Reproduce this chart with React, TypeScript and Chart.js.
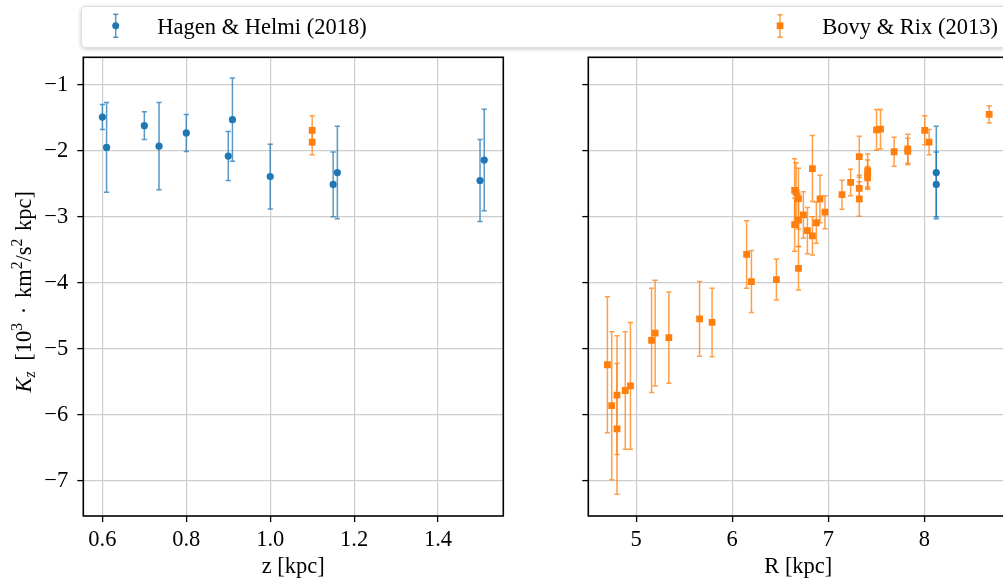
import React, { useEffect, useRef } from 'react';
import { Chart, registerables } from 'chart.js';

Chart.register(...registerables);

const FAMILY = '"Liberation Serif", "Times New Roman", serif';
const FS = 22.5;
const BLUE = '#1f77b4';
const ORANGE = '#ff7f0e';
const BLUE_ERR = 'rgba(31,119,180,0.75)';
const ORANGE_ERR = 'rgba(255,127,14,0.75)';

// ---------- left panel (vs z) ----------
const hhZ = [0.60, 0.61, 0.70, 0.735, 0.80, 0.90, 0.91, 1.00, 1.15, 1.16, 1.50, 1.51];
const hhZK = [-1.49, -1.95, -1.62, -1.93, -1.73, -2.08, -1.53, -2.39, -2.51, -2.33, -2.45, -2.14];
const hhZErr = [0.19, 0.68, 0.21, 0.66, 0.28, 0.37, 0.63, 0.49, 0.49, 0.70, 0.62, 0.77];

const brZ = [1.10, 1.10];
const brZK = [-1.69, -1.87];
const brZErr = [0.22, 0.19];

// ---------- right panel (vs R) ----------
const hhR = [8.125, 8.125];
const hhRK = [-2.51, -2.33];
const hhRErr = [0.49, 0.70];

const brR = [
  4.70, 4.745, 4.80, 4.80, 4.886, 4.94, 5.16, 5.197, 5.34, 5.66, 5.79,
  6.15, 6.20, 6.46, 6.65, 6.665, 6.65, 6.69, 6.69, 6.69, 6.741, 6.783,
  6.835, 6.835, 6.876, 6.914, 6.966, 7.143, 7.233, 7.323, 7.323, 7.323,
  7.41, 7.41, 7.41, 7.503, 7.544, 7.686, 7.828, 7.828, 8.005, 8.05, 8.676,
];
const brRK = [
  -5.24, -5.86, -5.70, -6.21, -5.63, -5.56, -4.87, -4.76, -4.83, -4.545, -4.60,
  -3.57, -3.98, -3.95, -2.60, -2.63, -3.12, -2.725, -3.05, -3.78, -2.97, -3.21,
  -2.27, -3.29, -3.09, -2.73, -2.93, -2.665, -2.48, -2.09, -2.57, -2.73,
  -2.30, -2.36, -2.41, -1.684, -1.674, -2.015, -1.97, -2.01, -1.69, -1.87, -1.448,
];
const brRErr = [
  1.03, 1.12, 0.90, 0.99, 0.89, 0.96, 0.79, 0.80, 0.69, 0.565, 0.52,
  0.51, 0.47, 0.31, 0.48, 0.45, 0.40, 0.46, 0.40, 0.33, 0.35, 0.35,
  0.50, 0.29, 0.31, 0.36, 0.25, 0.22, 0.20, 0.31, 0.20, 0.26,
  0.25, 0.22, 0.17, 0.31, 0.30, 0.22, 0.22, 0.20, 0.22, 0.19, 0.13,
];

// ---------- ticks / ranges ----------
const zTicks = [0.6, 0.8, 1.0, 1.2, 1.4];
const rTicks = [5, 6, 7, 8];
const kTicks = [-7, -6, -5, -4, -3, -2, -1];
const zRange = [0.5545, 1.5555];
const rRange = [4.501, 8.875];
const kRange = [-7.53, -0.585];

const LEGEND_HH = 'Hagen & Helmi (2018)';
const LEGEND_BR = 'Bovy & Rix (2013)';
const X_TITLE_LEFT = 'z [kpc]';
const X_TITLE_RIGHT = 'R [kpc]';

const font = { family: FAMILY, size: FS };

const errorBarPlugin = {
  id: 'errorBars',
  beforeDatasetDraw(chart: any, args: any) {
    const ds = chart.data.datasets[args.index];
    if (!ds.errors) return;
    const xs = chart.scales.x;
    const ys = chart.scales.y;
    const ctx = chart.ctx;
    ctx.save();
    ctx.strokeStyle = ds.errorColor;
    ctx.lineWidth = 1.5;
    ds.data.forEach((p: any, i: number) => {
      const px = xs.getPixelForValue(p.x);
      const top = ys.getPixelForValue(p.y + ds.errors[i]);
      const bot = ys.getPixelForValue(p.y - ds.errors[i]);
      ctx.beginPath();
      ctx.moveTo(px, top);
      ctx.lineTo(px, bot);
      ctx.moveTo(px - 2.6, top);
      ctx.lineTo(px + 2.6, top);
      ctx.moveTo(px - 2.6, bot);
      ctx.lineTo(px + 2.6, bot);
      ctx.stroke();
    });
    ctx.restore();
  },
};

const framePlugin = {
  id: 'frame',
  afterDatasetsDraw(chart: any) {
    const { ctx, chartArea: a } = chart;
    ctx.save();
    ctx.strokeStyle = '#000';
    ctx.lineWidth = 1.6;
    ctx.strokeRect(a.left, a.top, a.right - a.left, a.bottom - a.top);
    ctx.restore();
  },
};

const yTitlePlugin = {
  id: 'yTitle',
  afterDraw(chart: any) {
    const ctx = chart.ctx;
    const a = chart.chartArea;
    const reg = `${FS}px ${FAMILY}`;
    const ita = `italic ${FS}px ${FAMILY}`;
    const small = `${FS * 0.7}px ${FAMILY}`;
    const smallIta = `italic ${FS * 0.7}px ${FAMILY}`;
    const segs = [
      { t: 'K', f: ita, dy: 0, gap: 0 },
      { t: 'z', f: smallIta, dy: 4, gap: 0 },
      { t: ' [10', f: reg, dy: 0, gap: 5 },
      { t: '3', f: small, dy: -9, gap: 0 },
      { t: ' · ', f: reg, dy: 0, gap: 3 },
      { t: 'km', f: reg, dy: 0, gap: 3 },
      { t: '2', f: small, dy: -9, gap: 0 },
      { t: '/s', f: reg, dy: 0, gap: 0 },
      { t: '2', f: small, dy: -9, gap: 0 },
      { t: ' kpc]', f: reg, dy: 0, gap: 2 },
    ];
    ctx.save();
    let total = 0;
    const widths = segs.map((s) => {
      ctx.font = s.f;
      const w = ctx.measureText(s.t).width;
      total += w + s.gap;
      return w;
    });
    const cy = (a.top + a.bottom) / 2 + 5;
    ctx.translate(31, cy);
    ctx.rotate(-Math.PI / 2);
    ctx.fillStyle = '#000';
    ctx.textBaseline = 'alphabetic';
    ctx.textAlign = 'left';
    let x = -total / 2;
    segs.forEach((s, i) => {
      x += s.gap;
      ctx.font = s.f;
      ctx.fillText(s.t, x, s.dy);
      x += widths[i];
    });
    ctx.restore();
  },
};

function minusFmt(v: number) {
  return (v < 0 ? '\u2212' : '') + String(Math.abs(Math.round(v)));
}

function buildConfig(opts: {
  datasets: any[];
  xRange: number[];
  xTicks: number[];
  xFmt: (v: number) => string;
  xTitle: string;
  yWidth: number;
  padRight: number;
  showYLabels: boolean;
  extraPlugins: any[];
}) {
  const grid = {
    color: '#cdcdcd',
    lineWidth: 1.2,
    drawTicks: true,
    tickLength: 6,
    tickColor: '#000',
    tickWidth: 1.3,
  };
  return {
    type: 'scatter',
    data: { datasets: opts.datasets },
    options: {
      animation: false,
      responsive: false,
      devicePixelRatio: 1,
      events: [],
      layout: { padding: { left: 0, top: 57.3, right: opts.padRight, bottom: 0 } },
      plugins: { legend: { display: false }, tooltip: { enabled: false } },
      scales: {
        x: {
          type: 'linear',
          min: opts.xRange[0],
          max: opts.xRange[1],
          afterBuildTicks: (s: any) => {
            s.ticks = opts.xTicks.map((v) => ({ value: v }));
          },
          afterFit: (s: any) => {
            s.height = 67;
          },
          grid,
          border: { display: false },
          ticks: {
            font,
            color: '#000',
            padding: 4.5,
            maxRotation: 0,
            autoSkip: false,
            callback: (v: any) => opts.xFmt(Number(v)),
          },
          title: {
            display: true,
            text: opts.xTitle,
            font,
            color: '#000',
            padding: { top: 0, bottom: 2.5 },
          },
        },
        y: {
          type: 'linear',
          min: kRange[0],
          max: kRange[1],
          afterBuildTicks: (s: any) => {
            s.ticks = kTicks.map((v) => ({ value: v }));
          },
          afterFit: (s: any) => {
            s.width = opts.yWidth;
          },
          grid,
          border: { display: false },
          ticks: {
            display: opts.showYLabels,
            font,
            color: '#000',
            padding: 9,
            autoSkip: false,
            callback: (v: any) => minusFmt(Number(v)),
          },
        },
      },
    },
    plugins: [errorBarPlugin, framePlugin, ...opts.extraPlugins],
  };
}

function makeDs(label: string, xs: number[], ys: number[], errs: number[], kind: 'hh' | 'br') {
  return {
    label,
    data: xs.map((x, i) => ({ x, y: ys[i] })),
    errors: errs,
    errorColor: kind === 'hh' ? BLUE_ERR : ORANGE_ERR,
    pointStyle: kind === 'hh' ? 'circle' : 'rect',
    pointRadius: kind === 'hh' ? 3.6 : 4.8,
    pointBackgroundColor: kind === 'hh' ? BLUE : ORANGE,
    pointBorderWidth: 0,
    showLine: false,
  };
}

export default function App() {
  const leftRef = useRef<HTMLCanvasElement>(null);
  const rightRef = useRef<HTMLCanvasElement>(null);

  useEffect(() => {
    const left = new Chart(
      leftRef.current as HTMLCanvasElement,
      buildConfig({
        datasets: [
          makeDs(LEGEND_BR, brZ, brZK, brZErr, 'br'),
          makeDs(LEGEND_HH, hhZ, hhZK, hhZErr, 'hh'),
        ],
        xRange: zRange,
        xTicks: zTicks,
        xFmt: (v) => v.toFixed(1),
        xTitle: X_TITLE_LEFT,
        yWidth: 83.3,
        padRight: 36.7,
        showYLabels: true,
        extraPlugins: [yTitlePlugin],
      }) as any
    );
    const right = new Chart(
      rightRef.current as HTMLCanvasElement,
      buildConfig({
        datasets: [
          makeDs(LEGEND_BR, brR, brRK, brRErr, 'br'),
          makeDs(LEGEND_HH, hhR, hhRK, hhRErr, 'hh'),
        ],
        xRange: rRange,
        xTicks: rTicks,
        xFmt: (v) => String(Math.round(v)),
        xTitle: X_TITLE_RIGHT,
        yWidth: 48.3,
        padRight: 21.7,
        showYLabels: false,
        extraPlugins: [],
      }) as any
    );
    return () => {
      left.destroy();
      right.destroy();
    };
  }, []);

  const textStyle: React.CSSProperties = {
    position: 'absolute',
    top: 14.4,
    fontFamily: FAMILY,
    fontSize: FS,
    lineHeight: '26px',
    color: '#000',
    whiteSpace: 'nowrap',
  };

  return (
    <div
      style={{
        position: 'absolute',
        left: 0,
        top: 0,
        width: 1003,
        height: 583,
        overflow: 'hidden',
        background: '#fff',
      }}
    >
      <canvas
        ref={leftRef}
        width={540}
        height={583}
        style={{ position: 'absolute', left: 0, top: 0, width: 540, height: 583 }}
      />
      <canvas
        ref={rightRef}
        width={490}
        height={583}
        style={{ position: 'absolute', left: 540, top: 0, width: 490, height: 583 }}
      />
      <div
        style={{
          position: 'absolute',
          left: 81,
          top: 6,
          width: 940,
          height: 42,
          border: '1px solid rgba(0,0,0,0.13)',
          borderRadius: 5,
          background: 'rgba(255,255,255,0.9)',
          boxShadow: '0 1px 4px rgba(0,0,0,0.22)',
          boxSizing: 'border-box',
        }}
      />
      <svg
        width={1003}
        height={60}
        style={{ position: 'absolute', left: 0, top: 0, pointerEvents: 'none' }}
      >
        <g stroke={BLUE_ERR} strokeWidth={1.5}>
          <line x1={115.7} y1={14.3} x2={115.7} y2={37.3} />
          <line x1={113.1} y1={14.3} x2={118.3} y2={14.3} />
          <line x1={113.1} y1={37.3} x2={118.3} y2={37.3} />
        </g>
        <circle cx={115.7} cy={25.7} r={3.5} fill={BLUE} />
        <g stroke={ORANGE_ERR} strokeWidth={1.5}>
          <line x1={780} y1={14.8} x2={780} y2={37.3} />
          <line x1={777.4} y1={14.8} x2={782.6} y2={14.8} />
          <line x1={777.4} y1={37.3} x2={782.6} y2={37.3} />
        </g>
        <rect x={776.7} y={22.4} width={6.7} height={6.7} fill={ORANGE} />
      </svg>
      <span style={{ ...textStyle, left: 157.3 }}>{LEGEND_HH}</span>
      <span style={{ ...textStyle, left: 822.3 }}>{LEGEND_BR}</span>
    </div>
  );
}
